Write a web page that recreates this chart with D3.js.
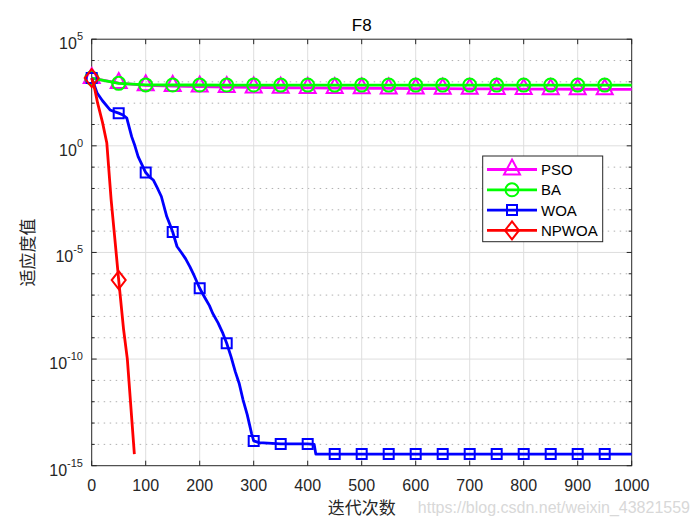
<!DOCTYPE html>
<html>
<head>
<meta charset="utf-8">
<script src="https://cdn.jsdelivr.net/npm/d3@7"></script>
<style>
  body { margin: 0; background: #fff; }
  svg { display: block; }
</style>
</head>
<body>
<div id="chart"></div>
<script>
const title = 'F8';
const xLabel = '迭代次数';
const yLabel = '适应度值';
const watermark = 'https://blog.csdn.net/weixin_43821559';

const xTicks = [0, 100, 200, 300, 400, 500, 600, 700, 800, 900, 1000];
const yMajorExp = [5, 0, -5, -10, -15];
const seriesNames = ['PSO', 'BA', 'WOA', 'NPWOA'];

// PSO
const psoIter = [0, 50, 100, 150, 200, 250, 300, 350, 400, 450, 500, 550, 600, 650, 700, 750, 800, 850, 900, 950, 1000];
const psoValue = [1500, 880, 690, 640, 600, 570, 545, 530, 520, 510, 500, 492, 485, 478, 472, 466, 460, 455, 450, 447, 445];

// BA
const baIter = [0, 50, 100, 150, 200, 250, 300, 350, 400, 450, 500, 550, 600, 650, 700, 750, 800, 850, 900, 950, 1000];
const baValue = [1500, 850, 720, 712, 710, 708, 707, 706, 705, 705, 705, 705, 704, 704, 704, 704, 704, 704, 704, 704, 704];

// WOA
const woaIter = [0, 10, 20, 34, 42, 50, 58, 65, 74, 80, 86, 93, 100, 107, 114, 122, 129, 139, 145, 150,
  158, 166, 174, 182, 190, 200, 206, 212, 218, 224, 234, 243, 250, 258, 266, 273, 280, 288, 296, 300,
  310, 350, 400, 412, 415, 450, 500, 550, 600, 650, 700, 750, 800, 850, 900, 950, 1000];
const woaValue = [1500, 300, 130, 48, 40, 34, 28, 20, 2.7, 1.0, 0.31, 0.13, 0.056, 0.035, 0.025, 0.01, 4.2e-3, 4.8e-4, 2e-4, 9.1e-5,
  1.9e-5, 1e-5, 5e-6, 2.1e-6, 7.9e-7, 2.1e-7, 1.1e-7, 5.9e-8, 3.2e-8, 1.4e-8, 5e-9, 1.6e-9, 5.5e-10, 1.3e-10, 2.5e-11, 7.4e-12, 1.3e-12, 2.5e-13, 3.3e-14, 1.45e-14,
  1.2e-14, 1.05e-14, 1.05e-14, 1.0e-14, 3.5e-15, 3.5e-15, 3.5e-15, 3.5e-15, 3.5e-15, 3.5e-15, 3.5e-15, 3.5e-15, 3.5e-15, 3.5e-15, 3.5e-15, 3.5e-15, 3.5e-15];

// NPWOA
const npwoaIter = [0, 6, 11, 20, 28, 36, 43, 50, 59, 66, 79];
const npwoaValue = [1500, 420, 100, 12.6, 1.35, 2.9e-3, 4e-5, 5.1e-7, 2.5e-9, 1e-10, 3.5e-15];

const width = 700, height = 525;
const margin = { top: 39.2, right: 68.3, bottom: 59.3, left: 91.7 };
const axisColor = '#262626';
const sans = '"Liberation Sans", Arial, Helvetica, sans-serif';
const cjk = '"Noto Sans CJK SC", sans-serif';

const svg = d3.select('#chart')
  .append('svg')
  .attr('width', width)
  .attr('height', height);

const x = d3.scaleLinear().domain([0, 1000]).range([margin.left, width - margin.right]);
const y = d3.scaleLog().domain([1e-15, 1e5]).range([height - margin.bottom, margin.top]);
const x0 = x.range()[0], x1 = x.range()[1];
const y0 = y.range()[0], y1 = y.range()[1];

const decades = d3.range(-15, 6); // every decade for minor grid/ticks

// grid
const grid = svg.append('g');
grid.selectAll('.minor')
  .data(decades.filter(e => e % 5 !== 0))
  .enter().append('line')
  .attr('x1', x0).attr('x2', x1)
  .attr('y1', e => y(Math.pow(10, e))).attr('y2', e => y(Math.pow(10, e)))
  .attr('stroke', '#b0b0b0')
  .attr('stroke-width', 1)
  .attr('stroke-dasharray', '1.5,4.5');
grid.selectAll('.hmajor')
  .data(yMajorExp.filter(e => e > -15 && e < 5))
  .enter().append('line')
  .attr('x1', x0).attr('x2', x1)
  .attr('y1', e => y(Math.pow(10, e))).attr('y2', e => y(Math.pow(10, e)))
  .attr('stroke', '#dedede')
  .attr('stroke-width', 1);
grid.selectAll('.vmajor')
  .data(xTicks.slice(1, -1))
  .enter().append('line')
  .attr('x1', d => x(d)).attr('x2', d => x(d))
  .attr('y1', y0).attr('y2', y1)
  .attr('stroke', '#dedede')
  .attr('stroke-width', 1);

// axes box and ticks
const ax = svg.append('g').attr('stroke', axisColor).attr('stroke-width', 1);
ax.append('rect')
  .attr('x', x0).attr('y', y1)
  .attr('width', x1 - x0).attr('height', y0 - y1)
  .attr('fill', 'none');
xTicks.forEach(t => {
  ax.append('line').attr('x1', x(t)).attr('x2', x(t)).attr('y1', y0).attr('y2', y0 - 5);
  ax.append('line').attr('x1', x(t)).attr('x2', x(t)).attr('y1', y1).attr('y2', y1 + 5);
});
decades.forEach(e => {
  const len = e % 5 === 0 ? 5 : 3;
  const yy = y(Math.pow(10, e));
  ax.append('line').attr('x1', x0).attr('x2', x0 + len).attr('y1', yy).attr('y2', yy);
  ax.append('line').attr('x1', x1).attr('x2', x1 - len).attr('y1', yy).attr('y2', yy);
});

// tick labels
svg.append('g')
  .selectAll('text')
  .data(xTicks)
  .enter().append('text')
  .attr('x', d => x(d))
  .attr('y', y0 + 25)
  .attr('text-anchor', 'middle')
  .attr('font-family', sans)
  .attr('font-size', 16)
  .attr('fill', axisColor)
  .text(d => d);

const yl = svg.append('g')
  .selectAll('text')
  .data(yMajorExp)
  .enter().append('text')
  .attr('x', 83)
  .attr('y', e => y(Math.pow(10, e)) + 10)
  .attr('text-anchor', 'end')
  .attr('font-family', sans)
  .attr('font-size', 16)
  .attr('fill', axisColor);
yl.append('tspan').text('10');
yl.append('tspan').attr('font-size', 11).attr('dy', -9).text(e => e < 0 ? '-' + (-e) : e);

// title and labels
svg.append('text')
  .attr('x', (x0 + x1) / 2).attr('y', 31)
  .attr('text-anchor', 'middle')
  .attr('font-family', sans).attr('font-size', 17)
  .attr('fill', '#000')
  .text(title);

svg.append('text')
  .attr('x', (x0 + x1) / 2).attr('y', 514)
  .attr('text-anchor', 'middle')
  .attr('font-family', cjk).attr('font-size', 17)
  .attr('fill', axisColor)
  .text(xLabel);

svg.append('text')
  .attr('transform', `translate(34,${(y0 + y1) / 2}) rotate(-90)`)
  .attr('text-anchor', 'middle')
  .attr('font-family', cjk).attr('font-size', 17)
  .attr('fill', axisColor)
  .text(yLabel);

svg.append('text')
  .attr('x', 690).attr('y', 513)
  .attr('text-anchor', 'end')
  .attr('font-family', sans).attr('font-size', 16)
  .attr('fill', '#d8d8d8')
  .text(watermark);

// markers
const markerPath = {
  triangle: 'M0,-10L8,5L-8,5Z',
  circle: 'M6.5,0A6.5,6.5 0 1,1 -6.5,0A6.5,6.5 0 1,1 6.5,0Z',
  square: 'M-5,-5H5V5H-5Z',
  diamond: 'M0,-9L7,0L0,9L-7,0Z'
};

const series = [
  { name: seriesNames[0], iter: psoIter, value: psoValue, color: '#ff00ff', marker: 'triangle' },
  { name: seriesNames[1], iter: baIter, value: baValue, color: '#00ff00', marker: 'circle' },
  { name: seriesNames[2], iter: woaIter, value: woaValue, color: '#0000ff', marker: 'square' },
  { name: seriesNames[3], iter: npwoaIter, value: npwoaValue, color: '#ff0000', marker: 'diamond' }
];

const line = d3.line().x(d => x(d[0])).y(d => y(d[1]));

series.forEach(s => {
  const pts = s.iter.map((t, i) => [t, s.value[i]]);
  const g = svg.append('g');
  g.append('path')
    .datum(pts)
    .attr('d', line)
    .attr('fill', 'none')
    .attr('stroke', s.color)
    .attr('stroke-width', 2.8)
    .attr('stroke-linejoin', 'round');
  g.selectAll('path.mk')
    .data(pts.filter(p => p[0] % 50 === 0 && p[0] < 1000))
    .enter().append('path')
    .attr('class', 'mk')
    .attr('transform', p => `translate(${x(p[0])},${y(p[1])})`)
    .attr('d', markerPath[s.marker])
    .attr('fill', 'none')
    .attr('stroke', s.color)
    .attr('stroke-width', 2);
});

// legend
const lg = svg.append('g');
lg.append('rect')
  .attr('x', 482.7).attr('y', 156)
  .attr('width', 120).attr('height', 85.7)
  .attr('fill', '#fff')
  .attr('stroke', axisColor)
  .attr('stroke-width', 1);
series.forEach((s, i) => {
  const yy = 169.5 + i * 20.3;
  lg.append('line')
    .attr('x1', 487).attr('x2', 537)
    .attr('y1', yy).attr('y2', yy)
    .attr('stroke', s.color).attr('stroke-width', 2.8);
  lg.append('path')
    .attr('transform', `translate(512,${yy})`)
    .attr('d', markerPath[s.marker])
    .attr('fill', 'none')
    .attr('stroke', s.color)
    .attr('stroke-width', 2);
  lg.append('text')
    .attr('x', 541).attr('y', yy + 5.5)
    .attr('font-family', sans).attr('font-size', 15)
    .attr('fill', '#000')
    .text(s.name);
});
</script>
</body>
</html>
